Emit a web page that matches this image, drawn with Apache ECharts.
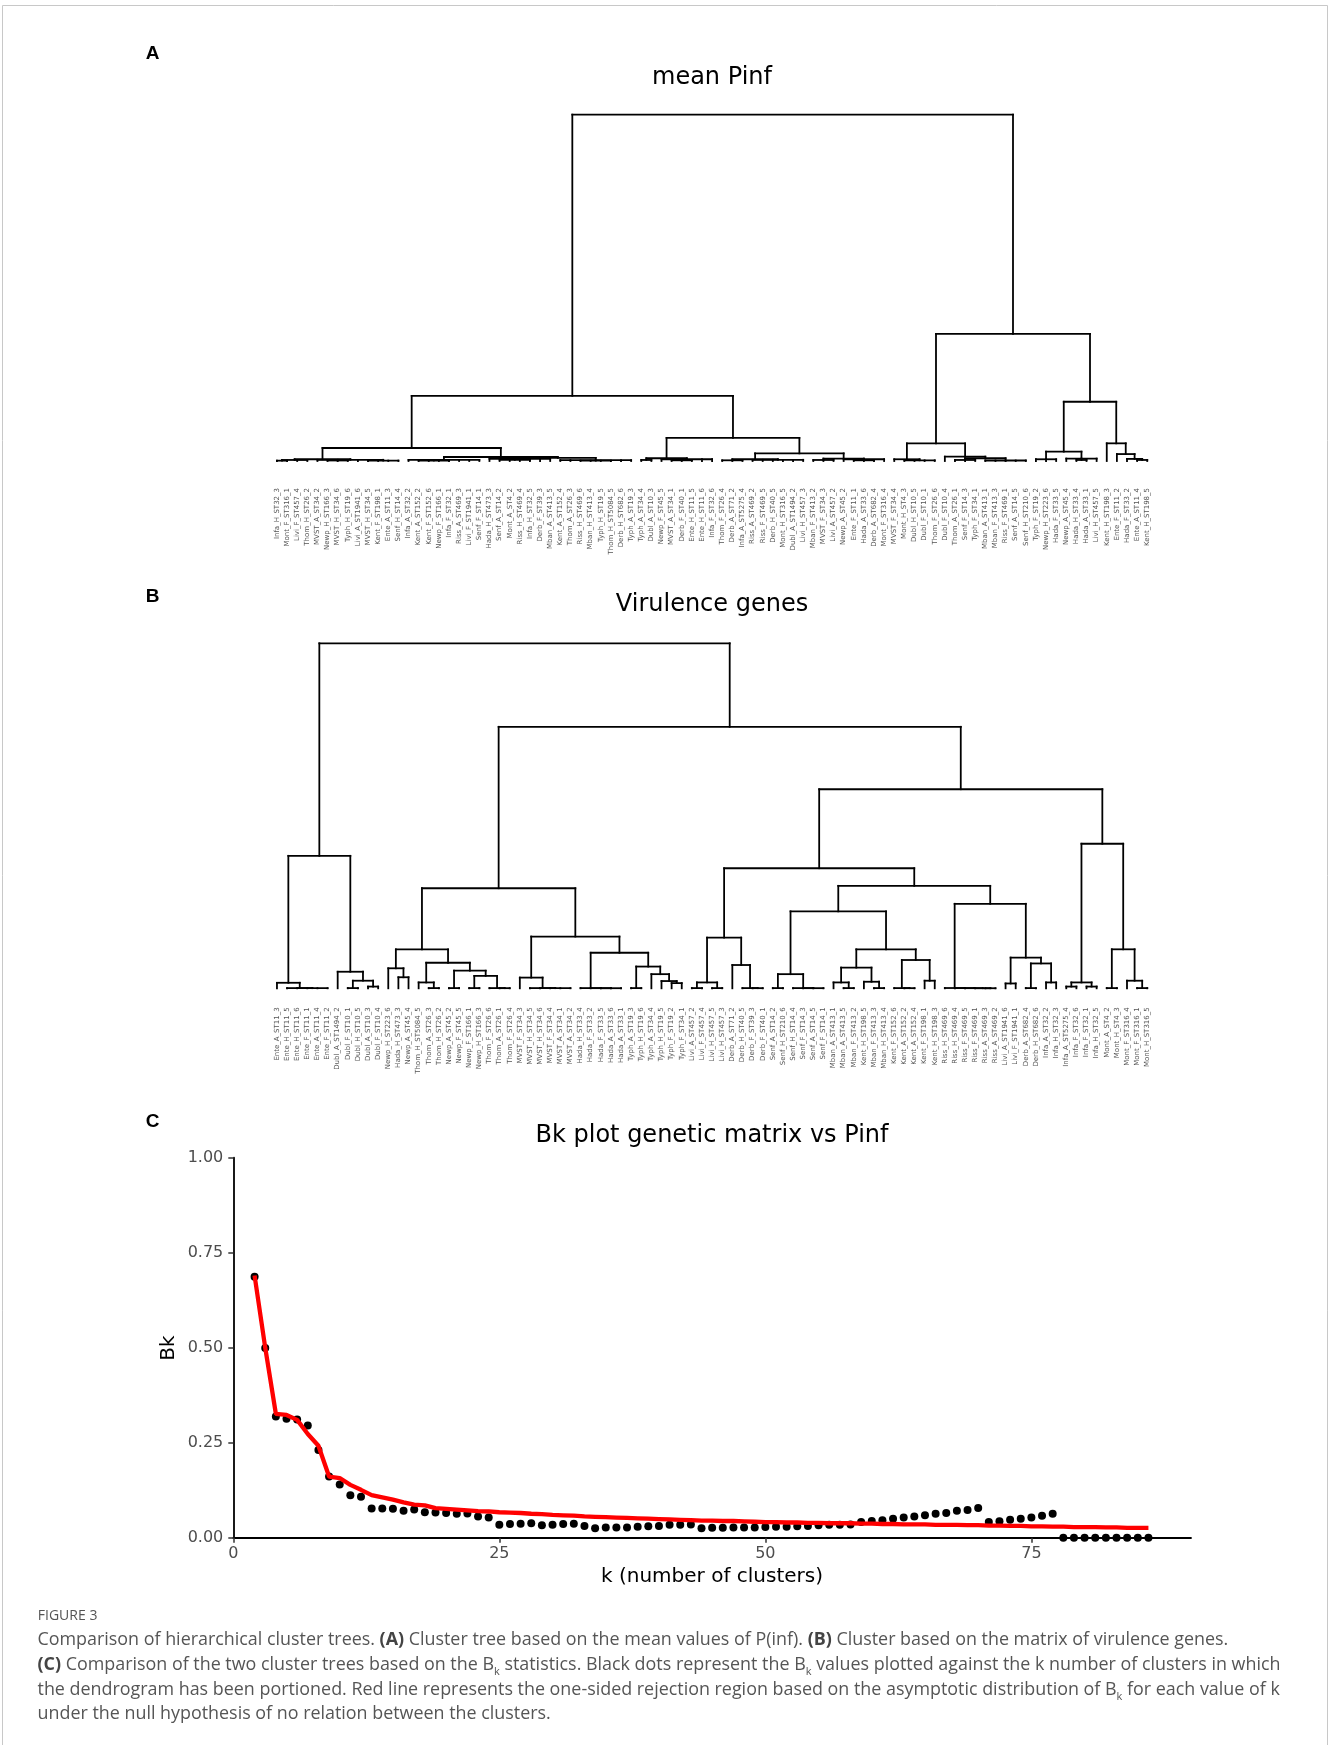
<!DOCTYPE html>
<html><head><meta charset="utf-8">
<script src="https://cdn.jsdelivr.net/npm/echarts@6/dist/echarts.min.js"></script>
<style>html,body{margin:0;padding:0;background:#fff}#c{width:1330px;height:1745px}</style>
</head><body><div id="c"></div><script>
// ---------- data ----------
const leavesA = ["Infa_H_ST32_3","Mont_F_ST316_1","Livi_F_ST457_4","Thom_H_ST26_2","MVST_A_ST34_2","Newp_H_ST166_3","MVST_H_ST34_6","Typh_H_ST19_6","Livi_A_ST1941_6","MVST_H_ST34_5","Kent_F_ST198_1","Ente_A_ST11_3","Senf_H_ST14_4","Infa_A_ST32_2","Kent_A_ST152_2","Kent_F_ST152_6","Newp_F_ST166_1","Infa_F_ST32_1","Riss_A_ST469_3","Livi_F_ST1941_1","Senf_F_ST14_1","Hada_H_ST473_3","Senf_A_ST14_2","Mont_A_ST4_2","Riss_H_ST469_4","Infa_H_ST32_5","Derb_F_ST39_3","Mban_A_ST413_5","Kent_A_ST152_4","Thom_A_ST26_3","Riss_H_ST469_6","Mban_H_ST413_4","Typh_H_ST19_5","Thom_H_ST5084_5","Derb_H_ST682_6","Typh_A_ST19_3","Typh_A_ST34_4","Dubl_A_ST10_3","Newp_F_ST45_5","MVST_A_ST34_1","Derb_F_ST40_1","Ente_H_ST11_5","Ente_H_ST11_6","Infa_F_ST32_6","Thom_F_ST26_4","Derb_A_ST71_2","Infa_A_ST5275_4","Riss_A_ST469_2","Riss_F_ST469_5","Derb_H_ST40_5","Mont_H_ST316_5","Dubl_A_ST1494_2","Livi_H_ST457_3","Mban_F_ST413_2","MVST_F_ST34_3","Livi_A_ST457_2","Newp_A_ST45_2","Ente_F_ST11_1","Hada_A_ST33_6","Derb_A_ST682_4","Mont_F_ST316_4","MVST_F_ST34_4","Mont_H_ST4_3","Dubl_H_ST10_5","Dubl_F_ST10_1","Thom_F_ST26_6","Dubl_F_ST10_4","Thom_A_ST26_1","Senf_F_ST14_3","Typh_F_ST34_1","Mban_A_ST413_1","Mban_F_ST413_3","Riss_F_ST469_1","Senf_A_ST14_5","Senf_H_ST210_6","Typh_F_ST19_2","Newp_H_ST223_6","Hada_F_ST33_5","Newp_A_ST45_4","Hada_H_ST33_4","Hada_A_ST33_1","Livi_H_ST457_5","Kent_H_ST198_3","Ente_F_ST11_2","Hada_F_ST33_2","Ente_A_ST11_4","Kent_H_ST198_5"];
const leavesB = ["Ente_A_ST11_3","Ente_H_ST11_5","Ente_H_ST11_6","Ente_F_ST11_1","Ente_A_ST11_4","Ente_F_ST11_2","Dubl_A_ST1494_2","Dubl_F_ST10_1","Dubl_H_ST10_5","Dubl_A_ST10_3","Dubl_F_ST10_4","Newp_H_ST223_6","Hada_H_ST473_3","Newp_A_ST45_4","Thom_H_ST5084_5","Thom_A_ST26_3","Thom_H_ST26_2","Newp_A_ST45_2","Newp_F_ST45_5","Newp_F_ST166_1","Newp_H_ST166_3","Thom_F_ST26_6","Thom_A_ST26_1","Thom_F_ST26_4","MVST_F_ST34_3","MVST_H_ST34_5","MVST_H_ST34_6","MVST_F_ST34_4","MVST_A_ST34_1","MVST_A_ST34_2","Hada_H_ST33_4","Hada_F_ST33_2","Hada_F_ST33_5","Hada_A_ST33_6","Hada_A_ST33_1","Typh_A_ST19_3","Typh_H_ST19_6","Typh_A_ST34_4","Typh_H_ST19_5","Typh_F_ST19_2","Typh_F_ST34_1","Livi_A_ST457_2","Livi_F_ST457_4","Livi_H_ST457_5","Livi_H_ST457_3","Derb_A_ST71_2","Derb_H_ST40_5","Derb_F_ST39_3","Derb_F_ST40_1","Senf_A_ST14_2","Senf_H_ST210_6","Senf_H_ST14_4","Senf_F_ST14_3","Senf_A_ST14_5","Senf_F_ST14_1","Mban_A_ST413_1","Mban_A_ST413_5","Mban_F_ST413_2","Kent_H_ST198_5","Mban_F_ST413_3","Mban_H_ST413_4","Kent_F_ST152_6","Kent_A_ST152_2","Kent_A_ST152_4","Kent_F_ST198_1","Kent_H_ST198_3","Riss_H_ST469_6","Riss_H_ST469_4","Riss_F_ST469_5","Riss_F_ST469_1","Riss_A_ST469_3","Riss_A_ST469_2","Livi_A_ST1941_6","Livi_F_ST1941_1","Derb_A_ST682_4","Derb_H_ST682_6","Infa_A_ST32_2","Infa_H_ST32_3","Infa_A_ST5275_4","Infa_F_ST32_6","Infa_F_ST32_1","Infa_H_ST32_5","Mont_A_ST4_2","Mont_H_ST4_3","Mont_F_ST316_4","Mont_F_ST316_1","Mont_H_ST316_5"];

// clusters: [first leaf, last leaf, merge height]
const treeA = [
 [0,86,100],[0,60,18.8],[61,86,36.7],
 [0,35,3.76],[0,12,0.5],[0,3,0.3],[4,12,0.35],[0,1,0.1],[5,7,0.15],[9,12,0.12],
 [13,35,1.16],[13,20,0.3],[14,17,0.15],[21,35,0.9],[21,27,0.6],[22,25,0.35],[28,35,0.25],[30,33,0.1],
 [36,60,6.65],[36,43,0.8],[36,37,0.3],[38,43,0.5],[39,41,0.2],
 [44,60,2.2],[44,52,0.5],[44,46,0.2],[47,52,0.35],[53,60,0.7],[53,55,0.3],[56,60,0.5],[57,59,0.2],
 [61,74,5.1],[61,65,0.5],[62,65,0.2],[66,74,1.25],[67,74,0.8],[67,69,0.3],[70,74,0.15],
 [75,86,17.1],[75,81,2.7],[75,77,0.5],[78,81,0.7],[79,80,0.3],
 [82,86,5.1],[83,86,2.0],[84,86,0.6],[85,86,0.3]
];
const treeB = [
 [0,86,100],
 [0,10,38.4],[0,5,1.6],[1,5,0.06],[2,5,0.04],[6,10,4.8],[7,10,2.2],[7,8,0.06],[9,10,0.5],
 [11,86,75.8],[11,40,29.0],
 [11,23,11.3],[11,13,5.8],[12,13,3.2],[14,23,7.4],[14,16,1.7],[15,16,0.06],[17,23,5.1],[17,18,0.06],[19,23,3.6],[19,20,0.06],[21,23,0.06],[22,23,0.04],
 [24,40,15.0],[24,29,3.1],[25,29,0.06],[26,29,0.04],[30,40,10.3],[30,34,0.06],[31,34,0.04],[32,34,0.03],[35,40,6.3],[35,36,0.06],[37,40,4.1],[38,40,2.1],[39,40,1.5],
 [41,86,57.7],[41,77,34.8],
 [41,48,14.7],[41,44,1.7],[41,42,0.06],[43,44,0.06],[45,48,6.75],[46,48,0.06],[47,48,0.04],
 [49,77,29.7],[49,65,22.3],[49,54,4.1],[49,50,0.06],[51,54,0.06],[52,54,0.04],
 [55,65,11.3],[55,60,6.0],[55,57,1.7],[56,57,0.06],[58,60,1.9],[59,60,0.06],[61,65,8.2],[61,63,0.06],[62,63,0.04],[64,65,2.2],
 [66,77,24.5],[66,71,0.08],[67,71,0.06],[68,71,0.04],[69,71,0.03],[70,71,0.02],[72,77,8.9],[72,73,1.4],[74,77,7.2],[74,75,0.06],[76,77,1.7],
 [78,86,41.9],[78,81,1.7],[78,79,0.5],[80,81,0.5],[82,86,11.3],[82,83,0.06],[84,86,2.2],[85,86,0.06]
];

const kValues = [2,3,4,5,6,7,8,9,10,11,12,13,14,15,16,17,18,19,20,21,22,23,24,25,26,27,28,29,30,31,32,33,34,35,36,37,38,39,40,41,42,43,44,45,46,47,48,49,50,51,52,53,54,55,56,57,58,59,60,61,62,63,64,65,66,67,68,69,70,71,72,73,74,75,76,77,78,79,80,81,82,83,84,85,86];
const bkValues = [0.687,0.499,0.319,0.313,0.311,0.295,0.231,0.161,0.140,0.112,0.108,0.077,0.077,0.076,0.071,0.074,0.067,0.066,0.065,0.063,0.064,0.056,0.053,0.034,0.036,0.037,0.038,0.033,0.034,0.036,0.037,0.031,0.025,0.027,0.027,0.027,0.029,0.030,0.031,0.034,0.034,0.035,0.025,0.026,0.026,0.027,0.027,0.027,0.028,0.029,0.029,0.030,0.031,0.033,0.034,0.034,0.035,0.041,0.044,0.046,0.050,0.053,0.056,0.059,0.063,0.065,0.071,0.073,0.078,0.041,0.043,0.047,0.050,0.053,0.058,0.063,0,0,0,0,0,0,0,0,0];
const rejectionValues = [0.690,0.500,0.326,0.323,0.310,0.273,0.242,0.161,0.157,0.139,0.126,0.112,0.106,0.100,0.093,0.087,0.085,0.078,0.076,0.074,0.072,0.070,0.069,0.067,0.066,0.065,0.063,0.062,0.060,0.059,0.058,0.056,0.055,0.054,0.053,0.052,0.051,0.050,0.049,0.048,0.047,0.046,0.045,0.045,0.044,0.044,0.043,0.042,0.041,0.041,0.040,0.040,0.039,0.039,0.038,0.038,0.038,0.037,0.037,0.036,0.036,0.035,0.035,0.035,0.034,0.034,0.034,0.033,0.033,0.032,0.032,0.031,0.031,0.030,0.030,0.029,0.029,0.028,0.028,0.028,0.027,0.027,0.026,0.026,0.026];
const kTickLabels = [0,25,50,75];
const bkTickLabels = [0,0.25,0.5,0.75,1];

// ---------- dendrogram segments from cluster ranges ----------
function dendroSegments(ranges){
  const segs = [];
  function findChild(p, last, self){
    let best = null;
    for (const r of ranges){
      if (r === self) continue;
      if (r[0] === p && r[1] <= last && (!best || r[1] > best[1])) best = r;
    }
    return best;
  }
  function build(r){
    let p = r[0]; const kids = [];
    while (p <= r[1]){
      const c = findChild(p, r[1], r);
      if (c){ kids.push(build(c)); p = c[1] + 1; }
      else { kids.push({x:p, h:0}); p++; }
    }
    const first = kids[0], last = kids[kids.length-1];
    segs.push([first.x, r[2], last.x, r[2]]);
    kids.forEach(k => segs.push([k.x, k.h, k.x, r[2]]));
    return {x:(first.x + last.x)/2, h:r[2]};
  }
  const root = ranges.reduce((a,b) => (b[1]-b[0] > a[1]-a[0] ? b : a));
  build(root);
  return segs;
}
const segsA = dendroSegments(treeA);
const segsB = dendroSegments(treeB);

function segRender(params, api){
  const p1 = api.coord([api.value(0), api.value(1)]);
  const p2 = api.coord([api.value(2), api.value(3)]);
  return {type:'line', shape:{x1:p1[0], y1:p1[1], x2:p2[0], y2:p2[1]},
          style:{stroke:'#000', lineWidth:1.8, lineCap:'square'}};
}

const FONT = 'DejaVu Sans';
const chart = echarts.init(document.getElementById('c'), null, {renderer:'canvas'});

function leafAxis(grid, labels, margin){
  return {type:'category', gridIndex:grid, position:'bottom', data:labels, boundaryGap:true,
    axisLine:{show:false}, axisTick:{show:false}, splitLine:{show:false},
    axisLabel:{interval:0, rotate:90, fontSize:7, fontFamily:FONT, color:'#555', margin:margin}};
}
function hiddenX(grid, n){
  return {type:'value', gridIndex:grid, position:'top', min:-0.5, max:n-0.5, show:false};
}

const capFont = 'Open Sans';
const capSize = 17.9;
function capLine(text, y){
  return {type:'text', left:37.5, top:y-12.5, silent:true,
    style:{text:text, fontFamily:capFont, fontSize:capSize, fill:'#555', lineHeight:25,
      rich:{b:{fontFamily:capFont, fontSize:capSize, fontWeight:'bold', fill:'#444', lineHeight:25},
            s:{fontFamily:capFont, fontSize:11, fill:'#555', lineHeight:14, verticalAlign:'bottom'}}}};
}

const option = {
  animation:false,
  backgroundColor:'#fff',
  grid:[
    {left:271.9, width:880.4, top:114.6, height:346.4},
    {left:271.9, width:880.4, top:643.3, height:345},
    {left:233.3, width:957.7, top:1157.7, height:380}
  ],
  xAxis:[
    hiddenX(0, leavesA.length), leafAxis(0, leavesA, 27),
    hiddenX(1, leavesB.length), leafAxis(1, leavesB, 19),
    {type:'value', gridIndex:2, min:0, max:90,
     axisLine:{show:true, onZero:false, lineStyle:{color:'#000', width:1.8}},
     axisTick:{show:true, length:5, customValues:kTickLabels, lineStyle:{color:'#333', width:1.5}},
     axisLabel:{customValues:kTickLabels, fontSize:16, fontFamily:FONT, color:'#4d4d4d', margin:8},
     splitLine:{show:false}}
  ],
  yAxis:[
    {type:'value', gridIndex:0, min:0, max:100, show:false},
    {type:'value', gridIndex:1, min:0, max:100, show:false},
    {type:'value', gridIndex:2, min:0, max:1,
     axisLine:{show:true, onZero:false, lineStyle:{color:'#000', width:1.8}},
     axisTick:{show:true, length:5, customValues:bkTickLabels, lineStyle:{color:'#333', width:1.5}},
     axisLabel:{customValues:bkTickLabels, fontSize:16, fontFamily:FONT, color:'#4d4d4d', margin:10,
                formatter:v => Number(v).toFixed(2)},
     splitLine:{show:false}}
  ],
  series:[
    {type:'custom', xAxisIndex:0, yAxisIndex:0, data:segsA, encode:{x:[0,2], y:[1,3]},
     renderItem:segRender, silent:true, clip:false},
    {type:'custom', xAxisIndex:2, yAxisIndex:1, data:segsB, encode:{x:[0,2], y:[1,3]},
     renderItem:segRender, silent:true, clip:false},
    {type:'scatter', xAxisIndex:4, yAxisIndex:2, symbol:'circle', symbolSize:8,
     itemStyle:{color:'#000', opacity:1}, data:kValues.map((k,i)=>[k, bkValues[i]]), clip:true, z:2, silent:true},
    {type:'line', xAxisIndex:4, yAxisIndex:2, showSymbol:false, symbol:'none',
     lineStyle:{color:'#ff0000', width:4.3, opacity:1}, data:kValues.map((k,i)=>[k, rejectionValues[i]]), z:3, silent:true}
  ],
  graphic:[
    {type:'line', silent:true, shape:{x1:2.5, y1:5.5, x2:1327.5, y2:5.5}, style:{stroke:'#c8c8c8', lineWidth:1}},
    {type:'line', silent:true, shape:{x1:2.5, y1:5.5, x2:2.5, y2:1745}, style:{stroke:'#c8c8c8', lineWidth:1}},
    {type:'line', silent:true, shape:{x1:1327.5, y1:5.5, x2:1327.5, y2:1745}, style:{stroke:'#c8c8c8', lineWidth:1}},
    {type:'text', silent:true, style:{text:'A', x:152.5, y:53.4, align:'center', verticalAlign:'middle', fontFamily:'Liberation Sans', fontWeight:'bold', fontSize:19, fill:'#000'}},
    {type:'text', silent:true, style:{text:'B', x:152.5, y:596.6, align:'center', verticalAlign:'middle', fontFamily:'Liberation Sans', fontWeight:'bold', fontSize:19, fill:'#000'}},
    {type:'text', silent:true, style:{text:'C', x:152.5, y:1121.5, align:'center', verticalAlign:'middle', fontFamily:'Liberation Sans', fontWeight:'bold', fontSize:19, fill:'#000'}},
    {type:'text', silent:true, style:{text:'mean Pinf', x:712, y:77.5, align:'center', verticalAlign:'middle', fontFamily:FONT, fontSize:24, fill:'#000'}},
    {type:'text', silent:true, style:{text:'Virulence genes', x:712, y:605, align:'center', verticalAlign:'middle', fontFamily:FONT, fontSize:24, fill:'#000'}},
    {type:'text', silent:true, style:{text:'Bk plot genetic matrix vs Pinf', x:712, y:1136, align:'center', verticalAlign:'middle', fontFamily:FONT, fontSize:24, fill:'#000'}},
    {type:'text', silent:true, style:{text:'k (number of clusters)', x:712, y:1577, align:'center', verticalAlign:'middle', fontFamily:FONT, fontSize:20, fill:'#000'}},
    {type:'text', silent:true, x:169, y:1348, rotation:Math.PI/2, style:{text:'Bk', x:0, y:0, align:'center', verticalAlign:'middle', fontFamily:FONT, fontSize:20, fill:'#000'}},
    {type:'text', silent:true, style:{text:'FIGURE 3', x:37.8, y:1616, align:'left', verticalAlign:'middle', fontFamily:capFont, fontSize:14, fill:'#555'}},
    capLine('Comparison of hierarchical cluster trees. {b|(A)} Cluster tree based on the mean values of P(inf). {b|(B)} Cluster based on the matrix of virulence genes.', 1640),
    capLine('{b|(C)} Comparison of the two cluster trees based on the B{s|k} statistics. Black dots represent the B{s|k} values plotted against the k number of clusters in which', 1665),
    capLine('the dendrogram has been portioned. Red line represents the one-sided rejection region based on the asymptotic distribution of B{s|k} for each value of k', 1689.5),
    capLine('under the null hypothesis of no relation between the clusters.', 1714)
  ]
};
chart.setOption(option);
</script></body></html>
